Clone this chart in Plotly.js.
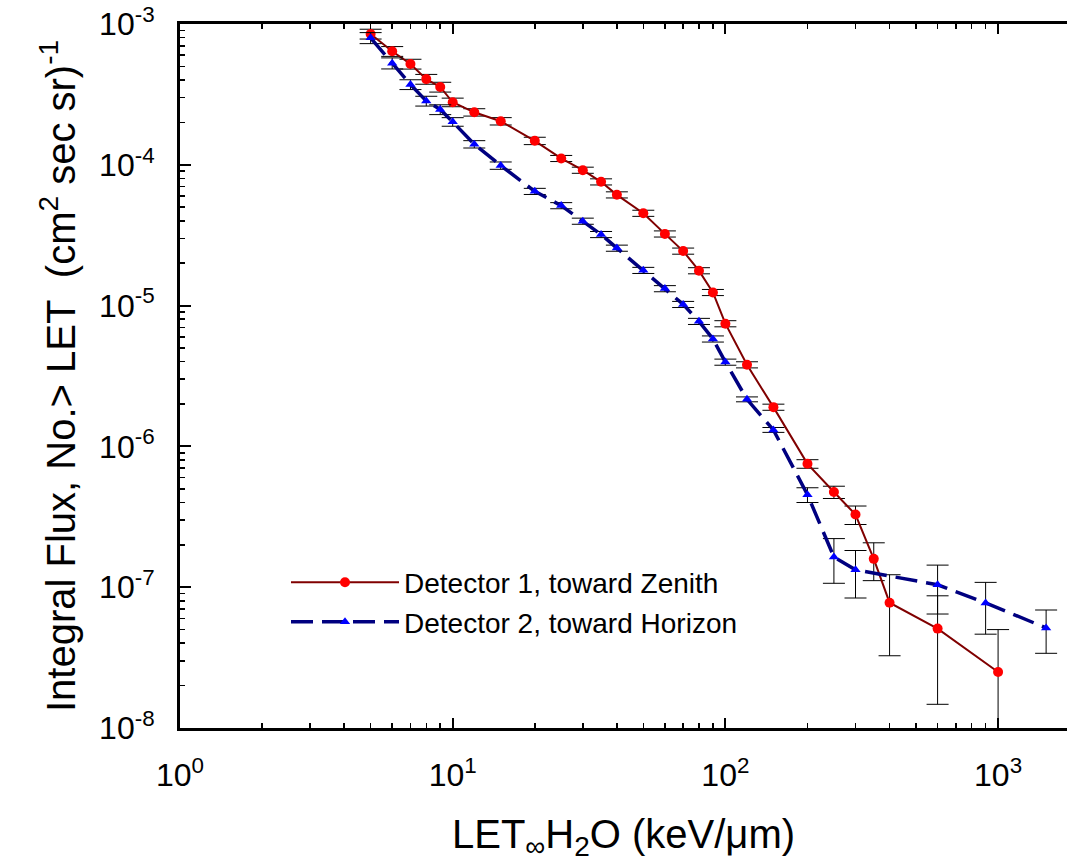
<!DOCTYPE html>
<html>
<head>
<meta charset="utf-8">
<script src="https://cdn.plot.ly/plotly-3.0.1.min.js"></script>
<style>html,body{margin:0;padding:0;background:#fff;}#chart{width:1067px;height:868px;}</style>
</head>
<body>
<div id="chart"></div>
<script>
// LET values (keV/um)
var letZenith = [5, 6, 7, 8, 9, 10, 12, 15, 20, 25, 30, 35, 40, 50, 60, 70, 80, 90, 100, 120, 150, 200, 250, 300, 350, 400, 600, 1000];
var fluxZenith = [8.5e-4, 6.4e-4, 5.2e-4, 4.06e-4, 3.57e-4, 2.78e-4, 2.36e-4, 2.04e-4, 1.48e-4, 1.11e-4, 9.16e-5, 7.57e-5, 6.12e-5, 4.53e-5, 3.23e-5, 2.44e-5, 1.77e-5, 1.24e-5, 7.44e-6, 3.80e-6, 1.90e-6, 7.52e-7, 4.74e-7, 3.28e-7, 1.59e-7, 7.76e-8, 5.08e-8, 2.50e-8];
var errZenithPct = [8, 8, 8, 8, 8, 7, 6, 6, 6, 5, 5, 5, 5, 5, 5, 5, 5, 5, 5, 5, 5, 7, 10, 15, 30, 58, 71, 100];

var letHorizon = [5, 6, 7, 8, 9, 10, 12, 15, 20, 25, 30, 35, 40, 50, 60, 70, 80, 90, 100, 120, 150, 200, 250, 300, 600, 900, 1500];
var fluxHorizon = [7.97e-4, 5.27e-4, 3.72e-4, 2.84e-4, 2.47e-4, 2.02e-4, 1.40e-4, 9.88e-5, 6.48e-5, 5.13e-5, 3.98e-5, 3.20e-5, 2.56e-5, 1.78e-5, 1.32e-5, 1.02e-5, 7.73e-6, 5.80e-6, 3.97e-6, 2.16e-6, 1.31e-6, 4.54e-7, 1.64e-7, 1.33e-7, 1.04e-7, 7.73e-8, 5.14e-8];
var errHorizonPct = [9, 9, 8, 8, 8, 7, 6, 6, 5, 5, 5, 5, 5, 5, 5, 5, 5, 5, 5, 4, 4, 12, 35, 37, 38, 40, 34];

var seriesNames = ['Detector 1, toward Zenith', 'Detector 2, toward Horizon'];
var xTickVals = [1, 10, 100, 1000];
var xTickText = ['10<sup>0</sup>', '10<sup>1</sup>', '10<sup>2</sup>', '10<sup>3</sup>'];
var yTickVals = [1e-8, 1e-7, 1e-6, 1e-5, 1e-4, 1e-3];
var yTickText = ['10<sup>-8</sup>', '10<sup>-7</sup>', '10<sup>-6</sup>', '10<sup>-5</sup>', '10<sup>-4</sup>', '10<sup>-3</sup>'];

function errs(vals, pct) {
  var plus = [], minus = [];
  for (var i = 0; i < vals.length; i++) {
    var e = vals[i] * pct[i] / 100;
    plus.push(e);
    minus.push(Math.min(e, vals[i] * 0.999));
  }
  return {plus: plus, minus: minus};
}
function minorVals(lo, hi) {
  var out = [];
  for (var p = lo; p < hi; p++) for (var k = 2; k <= 9; k++) out.push(k * Math.pow(10, p));
  return out;
}
var ez = errs(fluxZenith, errZenithPct);
var eh = errs(fluxHorizon, errHorizonPct);

var traces = [
  {
    x: letZenith, y: fluxZenith, name: seriesNames[0], type: 'scatter', mode: 'lines+markers',
    line: {color: '#800000', width: 2},
    marker: {color: '#ff0000', size: 10, symbol: 'circle'},
    error_y: {type: 'data', array: ez.plus, arrayminus: ez.minus, symmetric: false, color: '#000', thickness: 1, width: 11}
  },
  {
    x: letHorizon, y: fluxHorizon, name: seriesNames[1], type: 'scatter', mode: 'lines+markers',
    line: {color: '#000080', width: 3.5, dash: '22px,9px'},
    marker: {color: '#0000ff', size: 9, symbol: 'triangle-up'},
    error_y: {type: 'data', array: eh.plus, arrayminus: eh.minus, symmetric: false, color: '#000', thickness: 1, width: 11}
  }
];

var tickFont = {family: '"Liberation Sans", Arial, sans-serif', size: 32, color: '#000'};
var layout = {
  width: 1067, height: 868,
  margin: {l: 180, r: 0, t: 24, b: 140},
  paper_bgcolor: '#fff', plot_bgcolor: '#fff',
  showlegend: true,
  legend: {x: 0.1195, y: 0.242, xanchor: 'left', yanchor: 'top', bgcolor: 'rgba(0,0,0,0)',
    font: {family: '"Liberation Sans", Arial, sans-serif', size: 28, color: '#000'}, tracegroupgap: 0, itemwidth: 108},
  xaxis: {
    type: 'log', range: [0, 3.2527],
    tickmode: 'array', tickvals: xTickVals, ticktext: xTickText,
    ticks: 'inside', ticklen: 10, tickwidth: 2, tickcolor: '#000',
    minor: {tickmode: 'array', tickvals: minorVals(0, 4), ticks: 'inside', ticklen: 5, tickwidth: 1.5, tickcolor: '#000'},
    showline: true, linecolor: '#000', linewidth: 3, mirror: 'ticks',
    showgrid: false, zeroline: false, ticklabeloverflow: 'allow',
    tickfont: tickFont, ticklabelstandoff: 17,
    title: {text: 'LET<sub>∞</sub>H<sub>2</sub>O (keV/μm)', standoff: 28,
      font: {family: '"Liberation Sans", Arial, sans-serif', size: 40, color: '#000'}}
  },
  yaxis: {
    type: 'log', range: [-8, -3],
    tickmode: 'array', tickvals: yTickVals, ticktext: yTickText,
    ticks: 'inside', ticklen: 11, tickwidth: 2, tickcolor: '#000',
    minor: {tickmode: 'array', tickvals: minorVals(-8, -3), ticks: 'inside', ticklen: 5, tickwidth: 1.5, tickcolor: '#000'},
    showline: true, linecolor: '#000', linewidth: 3, mirror: false,
    showgrid: false, zeroline: false, ticklabeloverflow: 'allow',
    tickfont: tickFont, ticklabelstandoff: 16,
    title: {text: 'Integral Flux, No.> LET  (cm<sup>2</sup> sec sr)<sup>-1</sup>', standoff: 12,
      font: {family: '"Liberation Sans", Arial, sans-serif', size: 40, color: '#000'}}
  }
};

Plotly.newPlot('chart', traces, layout, {displayModeBar: false, staticPlot: true});
</script>
</body>
</html>
